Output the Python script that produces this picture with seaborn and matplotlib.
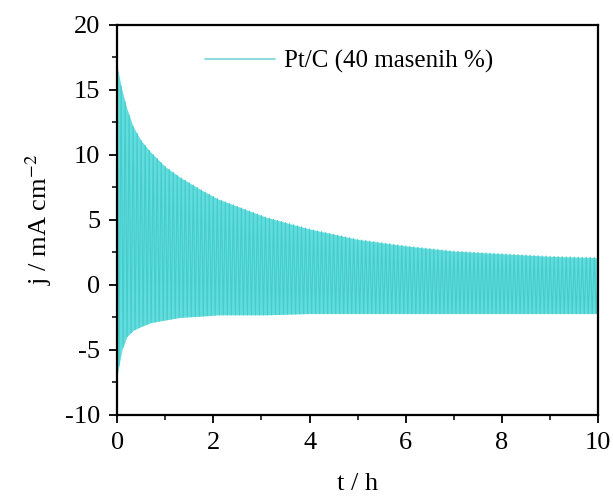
import matplotlib
matplotlib.use("Agg")
import matplotlib.pyplot as plt
import seaborn as sns
import numpy as np
import pandas as pd
from matplotlib.ticker import MultipleLocator

# envelope of the pulsed current (t in h, j in mA cm-2)
env_t = [0, 0.1, 0.2, 0.33, 0.5, 0.7, 1.0, 1.3, 1.75, 2.1, 3.1, 4, 5, 6, 7, 8, 9, 10]
env_upper = [16.8, 15.0, 13.6, 12.2, 11.1, 10.2, 9.1, 8.3, 7.3, 6.6, 5.2, 4.3, 3.5, 3.0, 2.6, 2.4, 2.2, 2.1]
env_lower = [-7.0, -5.0, -4.0, -3.5, -3.2, -2.9, -2.7, -2.5, -2.4, -2.3, -2.3, -2.2, -2.2, -2.2, -2.2, -2.2, -2.2, -2.2]
n_cycles = 120
label = "Pt/C (40 masenih %)"

sns.set_style("ticks")
plt.rcParams["font.family"] = ["Liberation Serif", "DejaVu Serif"]
plt.rcParams["mathtext.fontset"] = "stix"
plt.rcParams["axes.unicode_minus"] = False
for key in ["text.color", "axes.labelcolor", "xtick.color", "ytick.color"]:
    plt.rcParams[key] = "black"

# one anodic and one cathodic peak per cycle, heights taken from the envelope
t_peaks = np.linspace(0, 10, 2 * n_cycles + 1)
up = np.interp(t_peaks, env_t, env_upper)
lo = np.interp(t_peaks, env_t, env_lower)
j = np.where(np.arange(len(t_peaks)) % 2 == 0, up, lo)
df = pd.DataFrame({"t": t_peaks, "j": j})

fig = plt.figure(figsize=(6.13, 4.97), dpi=100)
ax = fig.add_axes([0.191, 0.165, 0.785, 0.785])

ax.fill_between(env_t, env_lower, env_upper, color="#62dcdc", lw=0)
sns.lineplot(data=df, x="t", y="j", sort=False, color="#45cccc", lw=0.8,
             label=label, ax=ax)

ax.set_xlim(0, 10)
ax.set_ylim(-10, 20)
ax.xaxis.set_major_locator(MultipleLocator(2))
ax.xaxis.set_minor_locator(MultipleLocator(1))
ax.yaxis.set_major_locator(MultipleLocator(5))
ax.yaxis.set_minor_locator(MultipleLocator(2.5))
ax.tick_params(which="major", direction="out", length=6, width=1.3,
               labelsize=19, pad=6, top=False, right=False)
ax.tick_params(which="minor", direction="out", length=3.5, width=1.1,
               top=False, right=False)
for s in ax.spines.values():
    s.set_linewidth(1.6)
    s.set_color("black")

ax.set_xlabel("t / h", fontsize=19, labelpad=14)
ax.set_ylabel("j / mA cm$^{-2}$", fontsize=19, labelpad=8)

leg = ax.legend(loc="center left", bbox_to_anchor=(0.183, 0.905), frameon=False,
                fontsize=18, handlelength=2.8, handletextpad=0.35,
                borderpad=0, borderaxespad=0)
for h in leg.get_lines():
    h.set_linewidth(1.2)
    h.set_color("#7ad6d6")

fig.savefig("out.png", dpi=100)
plt.close(fig)
